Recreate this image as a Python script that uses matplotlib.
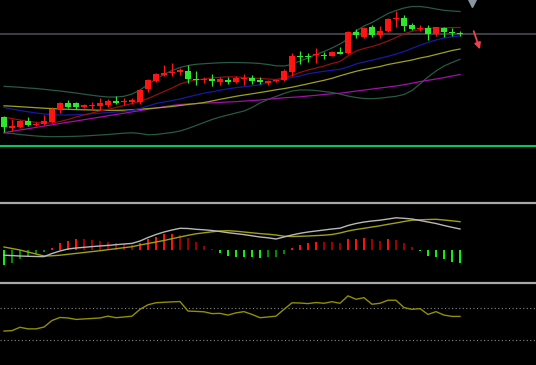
import matplotlib
matplotlib.use("Agg")
import matplotlib.pyplot as plt
import numpy as np

plt.rcParams["figure.facecolor"] = "black"
plt.rcParams["axes.facecolor"] = "black"
plt.rcParams["savefig.facecolor"] = "black"

# candles: open, close, high, low
opens = [32.7, 22.3, 23.5, 29.3, 25.5, 26, 28.3, 40.7, 46.7, 46.7, 43.3, 44.3, 44.3, 45.3, 49, 48, 47.7, 48.3,
         60.7, 69.3, 75, 76.7, 78, 79.3, 70.7, 70.3, 71.3, 68.3, 70, 67.7, 71, 72, 70, 66.7, 69, 69.7, 78.3, 94.3,
         94, 94.7, 95, 94.5, 98.3, 96.7, 118.3, 113, 122.7, 115.5, 119, 131.3, 131.7, 125, 121, 122.2, 116, 121.7,
         118.3, 116.7]
closes = [22.7, 24.3, 29, 25, 26.5, 29, 40.7, 46.7, 43.5, 42.7, 45, 45.3, 46.7, 49.3, 46.7, 49.3, 50, 60,
          70, 76, 77.3, 77.3, 80, 70.7, 69.7, 71.3, 69, 70.7, 67.7, 72, 72.3, 69, 67.7, 69.3, 70, 78.7, 94, 93.3,
          92.7, 96, 94, 98.3, 96.5, 118, 115, 122.5, 115, 119.5, 131.5, 131.8, 124.2, 121, 122.2, 115.8, 122.7,
          117.7, 117, 116]
highs = [34, 31, 30.5, 32.7, 28, 34.7, 42.7, 48, 50, 48, 46, 48.3, 51.7, 51.5, 54, 52.3, 52, 61.5,
         70.7, 76.7, 85, 87.3, 81.7, 85, 79.3, 73.5, 76, 73.5, 73, 74, 76, 74.7, 72.7, 70, 71, 80.7, 96.7, 99.3,
         96.7, 101.7, 98.3, 99, 103.3, 119, 121, 123, 125, 124.5, 132, 138.7, 135, 126.7, 125, 125, 123.3,
         123, 121.7, 119]
lows = [18, 19, 22.5, 24, 24, 25, 27, 37.3, 42, 41, 42, 41, 40, 43, 46, 45, 46.5, 46.5,
        58.3, 67.7, 74, 74, 75, 66.7, 65, 67.5, 64.3, 65.5, 66, 67, 65, 66, 66, 65.5, 68, 69, 74, 86,
        88.3, 87.3, 90.7, 94, 96, 96, 112.3, 112, 112.7, 111.7, 118.5, 123.3, 119.2, 120, 119, 110.5, 114,
        112.7, 114.3, 113.7]

# overlays
boll_upper = [63.7, 63.2, 62.7, 62, 61.5, 60.7, 59.8, 59, 58, 57, 55.8, 54.7, 53.7, 53, 53, 53.7, 56, 60,
              65.5, 71, 75.5, 79.5, 82.5, 84.5, 85.7, 86.3, 86.8, 87.2, 87.5, 87.5, 87.3, 87, 86.5, 85.5, 84.2,
              84, 85.5, 89, 92, 95.5, 98.5, 102, 106, 111, 119, 124, 127.5, 132, 136.5, 139.5, 142, 143.5,
              143.5, 142.5, 141, 139.7, 139, 138.5]
boll_lower = [17.2, 16.5, 15.5, 14.7, 14, 13.5, 13.3, 13.4, 13.5, 13.7, 14, 14.5, 15, 15.5, 16.2, 16.8, 17.2,
              16.5, 15.2, 15.5, 16.5, 17.5, 19, 21.5, 24.5, 27.5, 30.5, 33, 35, 37, 39, 42.5, 47, 50.5, 53.5,
              56.5, 59, 60, 60, 59.5, 58.5, 57.5, 56, 54, 52.5, 51.5, 51.3, 51.8, 52.8, 53.7, 55.5, 59.5, 66,
              73, 79, 84, 87.5, 90.7]
ma_red = [32.7, 31.5, 30, 28.7, 27.7, 27, 27, 28.5, 30.5, 33, 35, 37, 39, 40.7, 42.5, 44.5, 46.5, 48.5,
          51.5, 55, 58.5, 62, 66, 68.5, 70, 71, 72, 72.7, 73.2, 73, 72.5, 72, 71.5, 71, 70.5, 72, 74.5, 77.5,
          80, 82, 84, 86.5, 88.5, 94, 99, 101.5, 103.5, 106, 109, 112.5, 116, 118.7, 120.5, 121.7, 122, 122.2,
          122.4, 122.5]
ma_blue = [42.5, 41, 39.5, 38.2, 37, 36, 35.4, 35, 35, 35.2, 35.7, 36.2, 36.8, 37.4, 38, 38.5, 39.5, 41.5,
           44, 46.5, 48, 49.5, 51, 53, 55, 56.8, 58.2, 59.8, 61.2, 62.3, 63.3, 64.2, 65.2, 67.5, 69.5, 71,
           72.5, 74, 76.2, 77.5, 78.7, 79.7, 80.7, 83, 86, 88, 89.8, 91.8, 93.7, 96, 98.5, 101.7, 104.7, 107.5,
           110, 112, 113.2, 114]
ma_yellow = [44.2, 43.8, 43.3, 42.8, 42.3, 41.8, 41.4, 41, 40.7, 40.4, 40.2, 40, 39.8, 39.7, 39.7, 39.8, 40.2,
             40.8, 41.4, 42, 42.7, 43.5, 44.5, 45.5, 46.4, 47.5, 49, 50.7, 52.2, 53.7, 55, 56.2, 57.5, 58.8,
             60.2, 61.4, 62.8, 64.5, 66.2, 68, 69.7, 71.7, 74.2, 76.5, 78.7, 80.5, 82, 83.5, 85.5, 87, 88.5,
             90, 92, 93.5, 95.5, 97.5, 99.5, 101]
ma_purple = [17.3, 18.7, 20, 21.3, 22.6, 23.9, 25.2, 26.5, 27.8, 29, 30.3, 31.6, 32.9, 34.2, 35.5, 36.8, 38.1,
             39.4, 40.7, 42, 43.3, 44.5, 45.5, 46, 46.4, 46.8, 47.2, 47.6, 48, 48.4, 48.9, 49.4, 50, 50.8,
             51.5, 52.2, 52.7, 53.2, 54, 54.7, 55.5, 56.2, 56.8, 57.8, 58.9, 59.9, 61, 62, 63, 64, 65.3, 66.8,
             68.4, 69.7, 71, 72.4, 74, 75.5]
level_price = 116.5
base_price = 4

# MACD
dif = [-0.52, -0.56, -0.60, -0.63, -0.65, -0.66, -0.35, -0.10, 0.10, 0.20, 0.27, 0.34, 0.40, 0.46, 0.53, 0.60,
       0.66, 0.90, 1.25, 1.55, 1.80, 2.00, 2.17, 2.15, 2.07, 2.02, 1.95, 1.85, 1.73, 1.64, 1.54, 1.42, 1.30,
       1.22, 1.10, 1.30, 1.50, 1.67, 1.80, 1.90, 2.00, 2.10, 2.18, 2.45, 2.65, 2.80, 2.90, 2.98, 3.10, 3.22,
       3.17, 3.10, 2.95, 2.80, 2.65, 2.45, 2.27, 2.10]
dea = [0.30, 0.15, 0.00, -0.20, -0.40, -0.60, -0.58, -0.52, -0.43, -0.34, -0.25, -0.16, -0.07, 0.03, 0.13,
       0.23, 0.33, 0.50, 0.65, 0.80, 0.95, 1.13, 1.30, 1.47, 1.62, 1.72, 1.82, 1.90, 1.93, 1.88, 1.80, 1.72,
       1.64, 1.58, 1.50, 1.38, 1.35, 1.37, 1.40, 1.44, 1.48, 1.55, 1.70, 1.90, 2.05, 2.17, 2.30, 2.42, 2.57,
       2.70, 2.85, 2.98, 3.02, 3.05, 3.07, 3.00, 2.92, 2.83]
hist = [-1.50, -1.33, -0.93, -0.67, -0.43, -0.23, 0.23, 0.67, 0.90, 1.07, 1.07, 1.00, 0.90, 0.83, 0.73, 0.57,
        0.50, 0.73, 1.10, 1.33, 1.57, 1.60, 1.50, 1.17, 0.77, 0.40, 0.10, -0.33, -0.60, -0.65, -0.67, -0.70,
        -0.75, -0.73, -0.67, -0.40, 0.23, 0.50, 0.73, 0.83, 0.83, 0.82, 0.67, 1.07, 1.10, 1.23, 1.10, 0.90,
        1.13, 1.00, 0.73, 0.33, -0.07, -0.57, -0.67, -0.90, -1.17, -1.27]

# RSI
rsi = [41.4, 42.0, 46.0, 44.1, 44.1, 46.3, 54.3, 58.0, 57.4, 55.6, 56.2, 56.8, 57.4, 59.6, 57.7, 58.6, 59.6,
       67.9, 73.5, 75.9, 76.5, 77.0, 77.4, 65.8, 65.4, 64.9, 62.7, 63.0, 60.9, 63.6, 65.1, 61.7, 57.7, 58.6,
       59.6, 67.9, 75.9, 75.6, 74.9, 76.2, 75.3, 77.2, 75.3, 84.3, 80.2, 82.1, 74.1, 75.3, 79.0, 79.0, 70.0,
       67.9, 68.8, 61.7, 65.1, 60.9, 59.3, 59.3]
rsi_levels = [70, 30]

W, H = 536, 365
fig = plt.figure(figsize=(W / 100, H / 100), dpi=100)


def panel(top_px, bottom_px):
    ax = fig.add_axes([0, 1 - bottom_px / H, 1, (bottom_px - top_px) / H])
    ax.set_xlim(-0.5, 66.5)
    ax.set_xticks([])
    ax.set_yticks([])
    for s in ax.spines.values():
        s.set_visible(False)
    return ax


x = np.arange(len(opens))
o = np.array(opens)
c = np.array(closes)

# main price panel
ax = panel(0, 146)
ax.set_ylim(base_price, 150)
ax.axhline(level_price, color="#3a3e44", lw=1.5, zorder=1)
ax.spines["bottom"].set_visible(True)
ax.spines["bottom"].set_color("#00c864")
ax.spines["bottom"].set_linewidth(1.5)

ax.plot(x, boll_upper, color="#275a42", lw=0.9, zorder=2)
ax.plot(x, boll_lower, color="#275a42", lw=0.9, zorder=2)
ax.plot(x, ma_purple, color="#a010a8", lw=0.9, zorder=2)
ax.plot(x, ma_yellow, color="#a0a020", lw=0.9, zorder=2)
ax.plot(x, ma_blue, color="#1818a8", lw=0.9, zorder=2)
ax.plot(x, ma_red, color="#901010", lw=0.9, zorder=2)

up = c >= o
colors = np.where(up, "#ff1414", "#2ee62e")
ax.vlines(x, lows, highs, colors=colors, lw=0.9, zorder=3)
body = np.maximum(np.abs(c - o), 0.9)
ax.bar(x, body, bottom=np.minimum(o, c), width=0.68, color=colors, zorder=4, linewidth=0)

# marker and arrow on the right
ax.plot([58.5], [149.5], marker="v", ms=9, color="#8a96a4", clip_on=False, zorder=5)
ax.annotate("", xy=(59.6, 98), xytext=(58.6, 121.5),
            arrowprops=dict(arrowstyle="-|>", color="#f0404c", lw=1.3, mutation_scale=9))

# MACD panel
ax2 = panel(203, 282)
ax2.set_ylim(-3.2, 4.7)
ax2.spines["top"].set_visible(True)
ax2.spines["top"].set_color("#a8a8a8")
ax2.spines["top"].set_linewidth(1.6)
h = np.array(hist)
prev = np.concatenate([[0], h[:-1]])
hcol = []
for v, p in zip(h, prev):
    if v >= 0:
        hcol.append("#ff1010" if v > p else "#9a0000")
    else:
        hcol.append("#10f010" if v < p else "#008c00")
ax2.bar(x, h, width=0.26, color=hcol, linewidth=0, zorder=2)
ax2.plot(x, dea, color="#a0a010", lw=1.0, zorder=3)
ax2.plot(x, dif, color="#b8b8b8", lw=1.0, zorder=3)

# RSI panel
ax3 = panel(283, 363)
ax3.set_ylim(2.5, 100)
ax3.spines["top"].set_visible(True)
ax3.spines["top"].set_color("#a8a8a8")
ax3.spines["top"].set_linewidth(1.6)
for lv in rsi_levels:
    ax3.axhline(lv, color="#8a8a8a", lw=0.8, ls=(0, (1, 2.2)))
ax3.plot(x, rsi, color="#909000", lw=1.0)

fig.savefig("out.png", dpi=100)
